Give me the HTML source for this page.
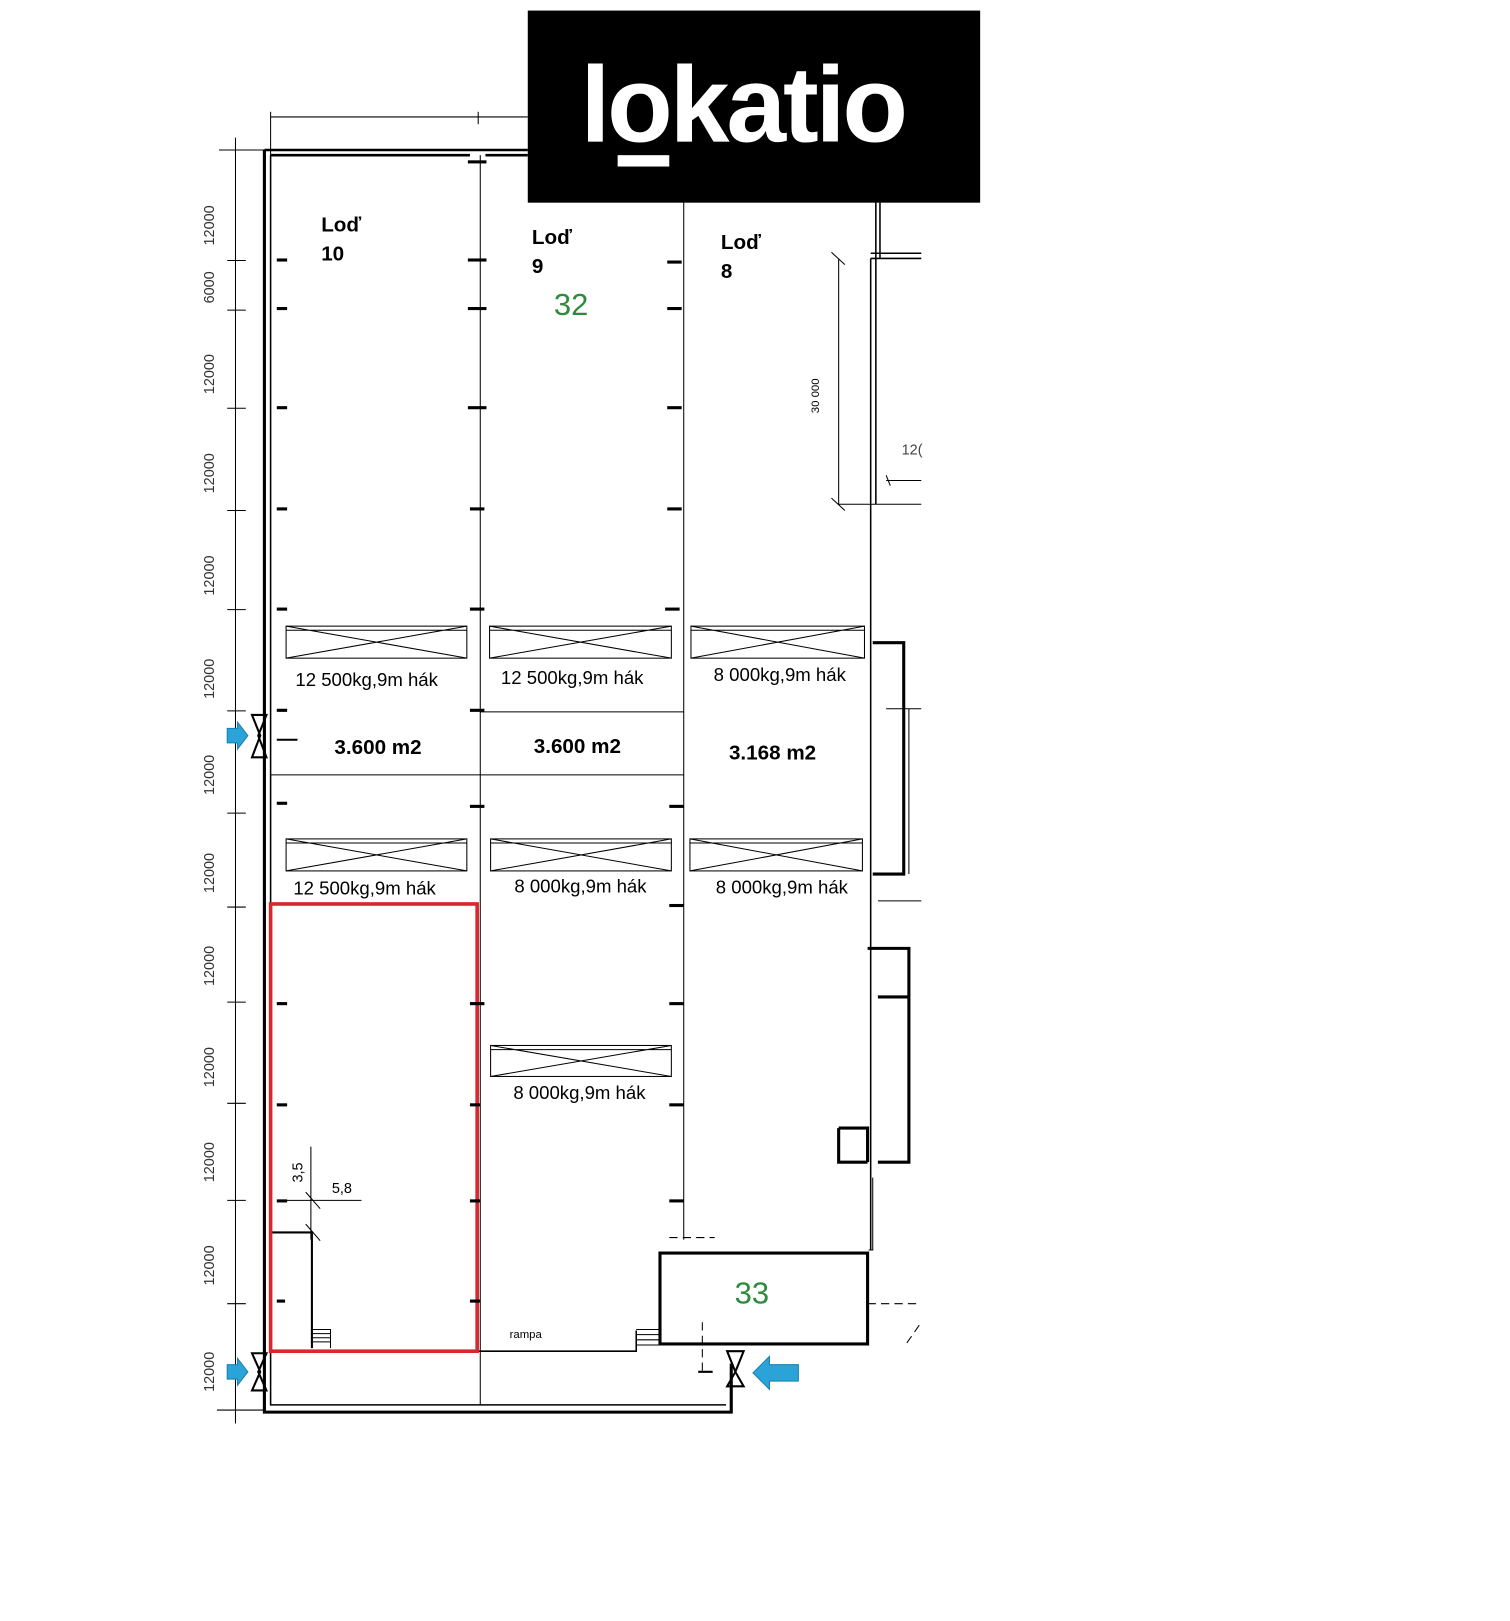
<!DOCTYPE html>
<html><head><meta charset="utf-8"><style>
html,body{margin:0;padding:0;background:#fff;width:1510px;height:1621px;overflow:hidden}
svg{display:block}
text{font-family:"Liberation Sans",sans-serif}
</style></head><body>
<svg width="1510" height="1621" viewBox="0 0 1462 1569" xmlns="http://www.w3.org/2000/svg">
<g stroke="#000" fill="none">
<!-- top dimension -->
<line x1="262" y1="113" x2="511" y2="113" stroke-width="1"/>
<line x1="262" y1="108" x2="262" y2="150" stroke-width="1"/>
<line x1="463" y1="108" x2="463" y2="120" stroke-width="1"/>
<!-- outer walls -->
<path d="M256 145 H511 M262 150 H455 M470 150 H511" stroke-width="2.5"/>
<path d="M256 145 V1367 H708 V1320" stroke-width="3"/>
<path d="M262 150 V1360 H703" stroke-width="1.5"/>
<!-- column lines -->
<line x1="465" y1="150" x2="465" y2="1360" stroke-width="1"/>
<line x1="662" y1="196" x2="662" y2="1200" stroke-width="1"/>
<line x1="262" y1="750" x2="662" y2="750" stroke-width="1"/>
<line x1="465" y1="689" x2="662" y2="689" stroke-width="1"/>
<!-- left dimension -->
<line x1="228" y1="133" x2="228" y2="1378" stroke-width="1"/>
<g stroke-width="1">
<line x1="212" y1="145" x2="256" y2="145"/><line x1="220" y1="252" x2="238" y2="252"/><line x1="220" y1="300" x2="238" y2="300"/><line x1="220" y1="395" x2="238" y2="395"/><line x1="220" y1="494" x2="238" y2="494"/><line x1="220" y1="590" x2="238" y2="590"/><line x1="220" y1="688" x2="238" y2="688"/><line x1="220" y1="787" x2="238" y2="787"/><line x1="220" y1="878" x2="238" y2="878"/><line x1="220" y1="970" x2="238" y2="970"/><line x1="220" y1="1068" x2="238" y2="1068"/><line x1="220" y1="1162" x2="238" y2="1162"/><line x1="220" y1="1262" x2="238" y2="1262"/><line x1="210" y1="1365" x2="256" y2="1365"/>
</g>
<!-- right structures -->
<path d="M843 250 V488 M848 250 V488 M843 250 H892 M843 245 H892 M848 196 V250 M852 196 V250" stroke-width="1.5"/>
<path d="M812 250 V488 M805 244 L818 256 M805 482 L818 494 M812 488 H892" stroke-width="1"/>
<line x1="843" y1="488" x2="843" y2="1210" stroke-width="1.5"/>
<path d="M845 622 H875 V846 H845" stroke-width="3"/>
<path d="M858 686 H892 M880 686 V846 M850 872 H892" stroke-width="1"/>
<path d="M840 918 H880 V1125 H850 M850 965 H880 M812 1092 H840 V1125 M812 1092 V1125 H840" stroke-width="3"/>
<path d="M845 1140 V1210 H841" stroke-width="1"/>
<path d="M858 465 H892 M858 460 L862 470" stroke-width="1"/>
<!-- crane boxes -->
<g stroke-width="1">
<rect x="277" y="606" width="175" height="31"/><path d="M277 606 L452 637 M277 637 L452 606 M277 610 H452"/>
<rect x="474" y="606" width="176" height="31"/><path d="M474 606 L650 637 M474 637 L650 606 M474 610 H650"/>
<rect x="669" y="606" width="168" height="31"/><path d="M669 606 L837 637 M669 637 L837 606 M669 610 H837"/>
<rect x="277" y="812" width="175" height="31"/><path d="M277 812 L452 843 M277 843 L452 812 M277 816 H452"/>
<rect x="475" y="812" width="175" height="31"/><path d="M475 812 L650 843 M475 843 L650 812 M475 816 H650"/>
<rect x="668" y="812" width="167" height="31"/><path d="M668 812 L835 843 M668 843 L835 812 M668 816 H835"/>
<rect x="475" y="1012" width="175" height="30"/><path d="M475 1012 L650 1042 M475 1042 L650 1012 M475 1016 H650"/>
</g>
<!-- inner wall, ramp -->
<path d="M262 1193 H302 V1305" stroke-width="2"/>
<path d="M301 1110 V1200 M275 1162 H350 M296 1154 L310 1170 M296 1185 L310 1201" stroke-width="1"/>
<path d="M462 1308 H616 V1288" stroke-width="1.5"/>
<path d="M301 1287 H320 V1305 M301 1291 H320 M301 1295 H320 M301 1299 H320 M616 1287 H638 M616 1292 H638 M616 1297 H638 M616 1302 H638" stroke-width="1"/>
<rect x="639" y="1213" width="201" height="88" stroke-width="3"/>
<path d="M648 1198 H692 M680 1280 V1330 M840 1262 H892 M878 1300 L892 1280" stroke-width="1" stroke-dasharray="8 5"/>
<!-- doors -->
<path d="M244 692 L258 692 L250 712 L258 733 L244 733 L252 712 Z" stroke-width="2"/>
<path d="M244 1310 L258 1310 L250 1328 L258 1346 L244 1346 L252 1328 Z" stroke-width="2"/>
<path d="M704 1308 L720 1308 L712 1328 L720 1342 L704 1342 L712 1328 Z" stroke-width="2"/>
<path d="M268 716 H288 M676 1328 H690" stroke-width="2"/>
<!-- red rect -->
<rect x="262" y="875" width="200" height="433" stroke="#d8282e" stroke-width="3.5"/>
</g>
<!-- column marks -->
<g fill="#000">
<rect x="268" y="250" width="10" height="3"/><rect x="268" y="297" width="10" height="3"/><rect x="268" y="393" width="10" height="3"/><rect x="268" y="491" width="10" height="3"/><rect x="268" y="588" width="10" height="3"/><rect x="268" y="686" width="10" height="3"/><rect x="268" y="776" width="10" height="3"/><rect x="268" y="970" width="10" height="3"/><rect x="268" y="1068" width="10" height="3"/><rect x="268" y="1161" width="10" height="3"/><rect x="268" y="1258" width="8" height="3"/>
<rect x="453" y="155" width="18" height="3"/><rect x="453" y="250" width="18" height="3"/><rect x="453" y="297" width="18" height="3"/><rect x="453" y="393" width="18" height="3"/><rect x="455" y="491" width="14" height="3"/><rect x="455" y="588" width="14" height="3"/><rect x="455" y="686" width="14" height="3"/><rect x="455" y="779" width="14" height="3"/><rect x="455" y="970" width="14" height="3"/><rect x="455" y="1068" width="10" height="3"/><rect x="455" y="1161" width="10" height="3"/><rect x="455" y="1258" width="10" height="3"/>
<rect x="646" y="252" width="14" height="3"/><rect x="646" y="297" width="14" height="3"/><rect x="646" y="393" width="14" height="3"/><rect x="646" y="491" width="14" height="3"/><rect x="644" y="588" width="14" height="3"/><rect x="648" y="779" width="14" height="3"/><rect x="648" y="875" width="14" height="3"/><rect x="648" y="970" width="14" height="3"/><rect x="648" y="1068" width="14" height="3"/><rect x="648" y="1161" width="14" height="3"/>
</g>
<!-- blue arrows -->
<g fill="#29a3d8" stroke="#1b7fae" stroke-width="1">
<path d="M220 705 H230 V699 L240 712 L230 725 V719 H220 Z"/>
<path d="M220 1321 H230 V1315 L240 1328 L230 1341 V1335 H220 Z"/>
<path d="M773 1321 H745 V1313 L729 1329 L745 1345 V1337 H773 Z"/>
</g>
<!-- logo -->
<rect x="511" y="10" width="438" height="186" fill="#000"/>
<text x="562" y="137" fill="#fff" font-size="104" font-weight="bold" letter-spacing="-3">lokatio</text>
<rect x="598" y="150" width="50" height="11" fill="#fff"/>
<!-- labels -->
<g font-weight="bold" font-size="20" fill="#000">
<text x="311" y="224">Loď</text><text x="311" y="252">10</text>
<text x="515" y="236">Loď</text><text x="515" y="264">9</text>
<text x="698" y="241">Loď</text><text x="698" y="269">8</text>
<text x="366" y="730" text-anchor="middle">3.600 m2</text>
<text x="559" y="729" text-anchor="middle">3.600 m2</text>
<text x="748" y="735" text-anchor="middle">3.168 m2</text>
</g>
<g font-size="18" fill="#000">
<text x="355" y="664" text-anchor="middle">12 500kg,9m hák</text>
<text x="554" y="662" text-anchor="middle">12 500kg,9m hák</text>
<text x="755" y="659" text-anchor="middle">8 000kg,9m hák</text>
<text x="353" y="866" text-anchor="middle">12 500kg,9m hák</text>
<text x="562" y="864" text-anchor="middle">8 000kg,9m hák</text>
<text x="757" y="865" text-anchor="middle">8 000kg,9m hák</text>
<text x="561" y="1064" text-anchor="middle">8 000kg,9m hák</text>
</g>
<text x="553" y="305" font-size="30" fill="#2e8b3e" text-anchor="middle">32</text>
<text x="728" y="1262" font-size="30" fill="#2e8b3e" text-anchor="middle">33</text>
<text x="509" y="1295" font-size="11" text-anchor="middle">rampa</text>
<text x="331" y="1155" font-size="14" text-anchor="middle">5,8</text>
<text transform="translate(293,1135) rotate(-90)" font-size="14" text-anchor="middle">3,5</text>
<text transform="translate(793,383) rotate(-90)" font-size="11" text-anchor="middle">30 000</text>
<text x="873" y="440" font-size="14" fill="#444">12(</text>
<g font-size="14" fill="#333" text-anchor="middle">
<text transform="translate(207,218) rotate(-90)">12000</text>
<text transform="translate(207,278) rotate(-90)">6000</text>
<text transform="translate(207,362) rotate(-90)">12000</text>
<text transform="translate(207,458) rotate(-90)">12000</text>
<text transform="translate(207,557) rotate(-90)">12000</text>
<text transform="translate(207,657) rotate(-90)">12000</text>
<text transform="translate(207,750) rotate(-90)">12000</text>
<text transform="translate(207,845) rotate(-90)">12000</text>
<text transform="translate(207,935) rotate(-90)">12000</text>
<text transform="translate(207,1033) rotate(-90)">12000</text>
<text transform="translate(207,1125) rotate(-90)">12000</text>
<text transform="translate(207,1225) rotate(-90)">12000</text>
<text transform="translate(207,1328) rotate(-90)">12000</text>
</g>
</svg>
</body></html>
